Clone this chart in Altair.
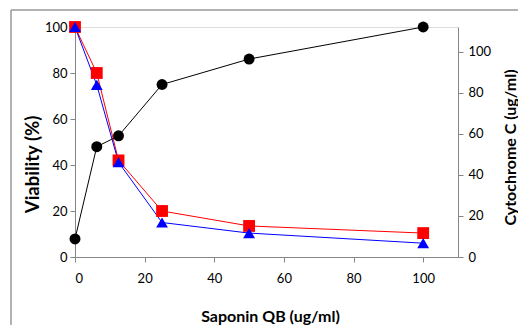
import altair as alt
import pandas as pd

saponin = [0, 6.25, 12.5, 25, 50, 100]
viability_red = [100, 80, 42, 20, 13.5, 10.4]
viability_blue = [100, 74.8, 41.2, 15, 10.4, 6]
cytochrome = [8.8, 53.7, 59, 84, 96.4, 112]
series = ["red", "blue"]

via = pd.DataFrame({
    "x": saponin * 2,
    "v": viability_red + viability_blue,
    "s": [series[0]] * len(saponin) + [series[1]] * len(saponin),
})
cyt = pd.DataFrame({"x": saponin, "c": cytochrome})

FONT = "Lato"
AX_COL = "#868686"

xscale = alt.Scale(domain=[0, 110], nice=False, zero=False)
xaxis = alt.Axis(values=[0, 20, 40, 60, 80, 100], title="Saponin QB (ug/ml)",
                 grid=False, domainColor=AX_COL, tickColor=AX_COL, tickSize=5,
                 labelPadding=10, titlePadding=23, labelFontSize=13, titleX=195,
                 titleFontSize=16, titleFontWeight="bold", labelColor="#000",
                 titleColor="#000", labelFont=FONT, titleFont=FONT)

color = alt.Color("s:N", scale=alt.Scale(domain=series, range=["#FF0000", "#0000FF"]), legend=None)
shape = alt.Shape("s:N", scale=alt.Scale(domain=series, range=["square", "triangle-up"]), legend=None)

yleft = alt.Y("v:Q", scale=alt.Scale(domain=[0, 100], nice=False),
              axis=alt.Axis(values=[0, 20, 40, 60, 80, 100], title="Viability (%)",
                            grid=False, domainColor=AX_COL, tickColor=AX_COL, tickSize=5,
                            labelPadding=3, titlePadding=2, labelFontSize=13, titleY=137,
                            titleFontSize=18.5, titleFontWeight="bold", labelColor="#000",
                            titleColor="#000", labelFont=FONT, titleFont=FONT))

base_v = alt.Chart(via).encode(x=alt.X("x:Q", scale=xscale, axis=xaxis), y=yleft, color=color)
lines_v = base_v.mark_line(strokeWidth=1)
pts_v = base_v.mark_point(filled=True, opacity=1, size=140).encode(shape=shape)

yright = alt.Y("c:Q", scale=alt.Scale(domain=[0, 112], nice=False),
               axis=alt.Axis(orient="right", values=[0, 20, 40, 60, 80, 100],
                             title="Cytochrome C (ug/ml)", titleAngle=270, titleBaseline="top",
                             grid=False, domainColor=AX_COL, tickColor=AX_COL, tickSize=5,
                             labelPadding=5, titlePadding=12, labelFontSize=13, titleY=120,
                             titleFontSize=16, titleFontWeight="bold", labelColor="#000",
                             titleColor="#000", labelFont=FONT, titleFont=FONT))

base_c = alt.Chart(cyt).encode(x=alt.X("x:Q", scale=xscale, axis=xaxis), y=yright)
lines_c = base_c.mark_line(strokeWidth=1, color="#000")
pts_c = base_c.mark_circle(size=120, opacity=1, color="#000")

border = alt.Chart(pd.DataFrame({"k": [0]})).mark_rule(color="#999", strokeWidth=1.5, clip=False)
border_l = border.encode(x=alt.value(-64), y=alt.value(-17), y2=alt.value(400))
border_t = border.encode(x=alt.value(-64), x2=alt.value(600), y=alt.value(-17))

chart = alt.layer(
    lines_v + pts_v,
    lines_c + pts_c,
    border_l + border_t,
).resolve_scale(y="independent", color="independent", shape="independent").properties(
    width=383, height=230,
    padding={"left": 67, "top": 19, "right": 60, "bottom": 68},
    autosize=alt.AutoSizeParams(type="none"),
).configure_view(stroke=None).configure(font=FONT)

chart.save("out.html", embed_options={"renderer": "svg", "actions": False})
